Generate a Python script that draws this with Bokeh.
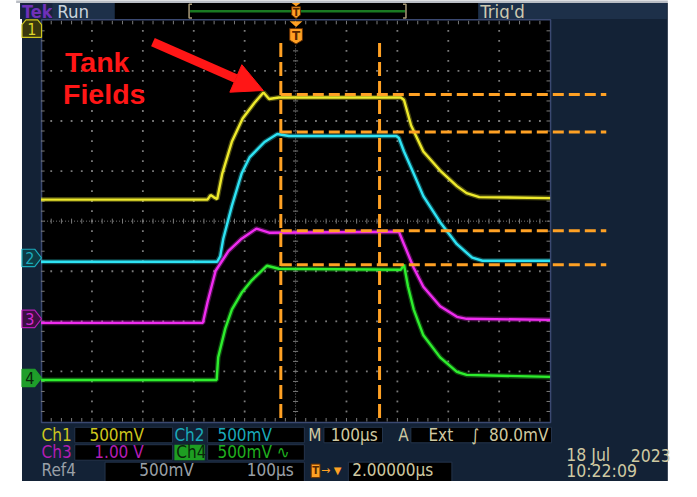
import numpy as np
from bokeh.plotting import figure
from bokeh.models import Range1d, Arrow, NormalHead
from bokeh.core.properties import value
from bokeh.embed import file_html
from bokeh.resources import INLINE

# ---------------- data ----------------
# time in µs relative to the trigger (100 µs/div), level in screen divisions
ch1_t = [-500, -173, -167, -161, -154, -144, -125, -104, -81, -63, -52, -33, 207, 213, 227, 251, 284, 317, 336, 361, 500]
ch1_v = [0.43, 0.43, 0.52, 0.48, 0.44, 0.95, 1.59, 2.05, 2.36, 2.57, 2.44, 2.47, 2.47, 2.42, 1.91, 1.39, 1.01, 0.70, 0.56, 0.48, 0.46]
ch2_t = [-500, -154, -148, -142, -125, -106, -90, -61, -36, -13, 198, 203, 213, 232, 251, 284, 317, 347, 367, 500]
ch2_v = [-0.81, -0.81, -0.70, -0.35, 0.31, 0.95, 1.28, 1.58, 1.74, 1.70, 1.70, 1.66, 1.39, 0.95, 0.50, -0.02, -0.46, -0.73, -0.79, -0.79]
ch3_t = [-500, -182, -173, -157, -132, -106, -77, -52, 203, 213, 232, 251, 284, 317, 336, 500]
ch3_v = [-2.03, -2.03, -1.62, -0.99, -0.60, -0.35, -0.15, -0.23, -0.21, -0.46, -0.93, -1.31, -1.70, -1.91, -1.95, -1.97]
ch4_t = [-500, -155, -152, -138, -125, -106, -86, -56, -33, 207, 213, 221, 232, 251, 284, 317, 336, 500]
ch4_v = [-3.17, -3.17, -2.72, -2.14, -1.76, -1.43, -1.18, -0.89, -0.95, -0.97, -0.87, -1.31, -1.76, -2.28, -2.72, -3.01, -3.07, -3.11]
cursor_t = [-29, 165]
cursor_v = [2.53, 1.78, -0.19, -0.87]

ch_labels = ["Ch1", "Ch2", "Ch3", "Ch4"]
ch_scales = ["500mV", "500mV", "1.00 V", "500mV \u223f"]
timebase = "100\u00b5s"
trig_info = ["Ext", "\u222b", "80.0mV"]
ref_info = ["Ref4", "500mV", "100\u00b5s"]
delay = "2.00000\u00b5s"
date_txt = ["18 Jul", "2023", "10:22:09"]
annot = ["Tank", "Fields"]

# ---------------- colours ----------------
NAVY = "#132236"
BOX = "#1d3049"
BEIGE = "#cfc9a2"
GRAY = "#9aa0a8"
ORANGE = "#ffa124"
RED = "#ff1616"
YEL_L, YEL_T = "#cdc51e", "#eeea2c"
CYN_L, CYN_T = "#1aa9b9", "#2ee4f4"
MAG_L, MAG_T = "#b41db4", "#f02cf0"
GRN_L, GRN_T = "#1fae1f", "#2eee2e"
GRID = "#7a7a7a"
COND = "DejaVu Sans Condensed"
FS = 17

W, H = 681, 481


def X(px):
    return (px - 302.0) * 100.0 / 52.1


def Y(py):
    return (229.0 - py) / 51.75


p = figure(width=W, height=H, x_range=Range1d(X(0), X(697)), y_range=Range1d(Y(498), Y(1)),
           output_backend="svg", toolbar_location=None, x_axis_type=None, y_axis_type=None,
           min_border=0, background_fill_color="white", border_fill_color="white",
           outline_line_color=None)
p.xgrid.visible = False
p.ygrid.visible = False


def box(x0, x1, y0, y1, fill, line=None, lw=1):
    p.quad(left=[X(x0)], right=[X(x1)], top=[Y(y0)], bottom=[Y(y1)],
           fill_color=fill, line_color=line, line_width=lw)


def poly(pts, fill, line=None, lw=1):
    p.patch(x=[X(a) for a, b in pts], y=[Y(b) for a, b in pts],
            fill_color=fill, line_color=line, line_width=lw)


def txt(s, px, py, color, size=FS, font=COND, style="normal", align="left", baseline="middle"):
    p.text(x=[X(px)], y=[Y(py)], text=[s], text_color=color, text_font=value(font),
           text_font_size=f"{size}px", text_font_style=style, text_align=align,
           text_baseline=baseline)


# ---------------- screen frame ----------------
box(16, 683, -2, 3.5, "#b9bdc4")
box(22, 683, 3.5, 505, NAVY)

# top status bar
box(20, 53, 3.5, 20, "#18233e")
txt("Tek", 22, 12, "#6f30b8", size=18, style="bold")
box(53, 117, 3.5, 20, BOX)
txt("Run", 58, 12, "#c9d3dc", size=18.5)
box(117, 489, 3.5, 20, "#000000")
p.line([X(194), X(414)], [Y(12), Y(12)], line_color="#1a7a22", line_width=2.5)
for bx, d in [(193, 1), (415, -1)]:
    p.line([X(bx + 3 * d), X(bx), X(bx), X(bx + 3 * d)], [Y(5), Y(5), Y(19), Y(19)],
           line_color="#a89a78", line_width=1.5)
poly([(298, 3.5), (307, 3.5), (302.5, 7)], ORANGE)
poly([(298, 7.5), (307, 7.5), (307, 16), (302.5, 19.5), (298, 16)], ORANGE, "#6a3000")
txt("T", 302.5, 13, "#5a2800", size=10, font="DejaVu Sans", style="bold", align="center")
box(489, 682, 3.5, 20, BOX)
txt("Trig'd", 491, 12, "#cdc9b0", size=18.5)

# ---------------- graticule ----------------
box(42, 563, 21, 437, "#000000", "#3a4870", 1.5)

dots_x, dots_y = [], []
for gv in [-3, -2, -1, 1, 2, 3]:
    for gt in np.arange(-480, 481, 20):
        dots_x.append(gt)
        dots_y.append(gv)
for gt in [-400, -300, -200, -100, 100, 200, 300, 400]:
    for gv in np.arange(-3.8, 3.81, 0.2):
        dots_x.append(gt)
        dots_y.append(gv)
p.scatter(dots_x, dots_y, marker="square", size=1.8, fill_color=GRID, line_color=None)

# centre lines with ticks
p.line([-500, 500], [0, 0], line_color=GRID, line_width=1, line_dash="1 2")
p.line([0, 0], [-4, 4], line_color=GRID, line_width=1, line_dash="1 2")
tk = np.arange(-480, 481, 20)
p.segment(x0=tk, y0=-0.05, x1=tk, y1=0.05, line_color=GRID, line_width=1)
tv = np.arange(-3.8, 3.81, 0.2)
p.segment(x0=-5, y0=tv, x1=5, y1=tv, line_color=GRID, line_width=1)
# edge ticks
p.segment(x0=tk, y0=4.0, x1=tk, y1=3.93, line_color=GRID, line_width=1)
p.segment(x0=tk, y0=-4.0, x1=tk, y1=-3.93, line_color=GRID, line_width=1)
p.segment(x0=-500, y0=tv, x1=-493, y1=tv, line_color=GRID, line_width=1)
p.segment(x0=500, y0=tv, x1=493, y1=tv, line_color=GRID, line_width=1)

# trigger position marker in graticule
poly([(296, 22.5), (309, 22.5), (302.5, 28.5)], ORANGE)
poly([(296, 30), (309, 30), (309, 42), (302.5, 46), (296, 42)], ORANGE, "#6a3000")
txt("T", 302.5, 37.5, "#5a2800", size=12, font="DejaVu Sans", style="bold", align="center")

# ---------------- traces ----------------
for t, v, c in [(ch1_t, ch1_v, YEL_T), (ch2_t, ch2_v, CYN_T), (ch3_t, ch3_v, MAG_T), (ch4_t, ch4_v, GRN_T)]:
    p.line(t, v, line_color=c, line_width=5, line_alpha=0.3)
    p.line(t, v, line_color=c, line_width=2.4)

# ---------------- cursors ----------------
for ct in cursor_t:
    p.line([ct, ct], [Y(45), -4.0], line_color=ORANGE, line_width=3, line_dash="14 5")
for cv in cursor_v:
    p.line([cursor_t[0], X(620)], [cv, cv], line_color=ORANGE, line_width=3, line_dash="11 5")

# ---------------- channel markers ----------------
poly([(22, 39), (22, 26), (26, 21), (38, 21), (42, 26), (42, 39)], "#3a380e", YEL_L, 1.2)
txt("1", 32, 30.5, "#dcd42a", size=16, align="center")
for yc, fill, line, tc, lab in [(267, "#0d3b45", CYN_L, CYN_L, "2"),
                                (330, "#3c0f42", MAG_L, "#d22ad2", "3"),
                                (391, "#1f9e2a", "#1f9e2a", "#0a240a", "4")]:
    poly([(22, yc - 9), (35, yc - 9), (42, yc), (35, yc + 9), (22, yc + 9)], fill, line, 1.2)
    txt(lab, 30, yc + 0.5, tc, size=16, align="center")

# ---------------- annotation ----------------
txt(annot[0], 66, 65, RED, size=28.5, font="Liberation Sans", style="bold", baseline="alphabetic")
txt(annot[1], 64, 98, RED, size=28.5, font="Liberation Sans", style="bold", baseline="alphabetic")
p.add_layout(Arrow(end=NormalHead(size=30, fill_color=RED, line_color=RED),
                   x_start=X(156), y_start=Y(44), x_end=X(269), y_end=Y(94),
                   line_color=RED, line_width=9))

# ---------------- bottom readouts ----------------
for x0, x1 in [(76, 176), (212, 311), (331, 391), (420, 564)]:
    box(x0, x1, 442, 458, "#000000", "#24344c")
for x0, x1 in [(76, 176), (212, 311)]:
    box(x0, x1, 460, 476, "#000000", "#24344c")
box(178, 209, 460, 476, "#1e9e22")
for x0, x1 in [(107, 311), (356, 462)]:
    box(x0, x1, 478, 505, "#000000", "#24344c")

txt(ch_labels[0], 42, 450, YEL_L)
txt(ch_scales[0], 91, 450, YEL_L)
txt(ch_labels[1], 178, 450, CYN_L)
txt(ch_scales[1], 222, 450, CYN_L)
txt("M", 315, 450, BEIGE)
txt(timebase, 338, 450, BEIGE)
txt("A", 407, 450, BEIGE)
txt(trig_info[0], 438, 450, BEIGE)
txt(trig_info[1], 482, 450, BEIGE)
txt(trig_info[2], 500, 450, BEIGE)

txt(ch_labels[2], 42, 468, MAG_L)
txt(ch_scales[2], 96, 468, MAG_L)
txt(ch_labels[3], 180, 468, "#0a260a")
txt(ch_scales[3], 222, 468, GRN_L)

txt(ref_info[0], 42, 486.5, GRAY)
txt(ref_info[1], 142, 486.5, GRAY)
txt(ref_info[2], 252, 486.5, GRAY)
box(318, 327, 480, 494, ORANGE, "#6a3000")
txt("T", 322.5, 487, "#5a2800", size=10, font="DejaVu Sans", style="bold", align="center")
txt("\u2192", 328, 487, ORANGE, size=11, font="DejaVu Sans")
txt("\u25bc", 341, 487, ORANGE, size=10, font="DejaVu Sans")
txt(delay, 360, 486.5, BEIGE)

txt(date_txt[0], 579, 471, BEIGE, size=17.5)
txt(date_txt[1], 645, 471, BEIGE, size=17.5)
txt(date_txt[2], 579, 487.5, BEIGE, size=17.5)

open("out.html", "w").write(file_html(p, INLINE))
